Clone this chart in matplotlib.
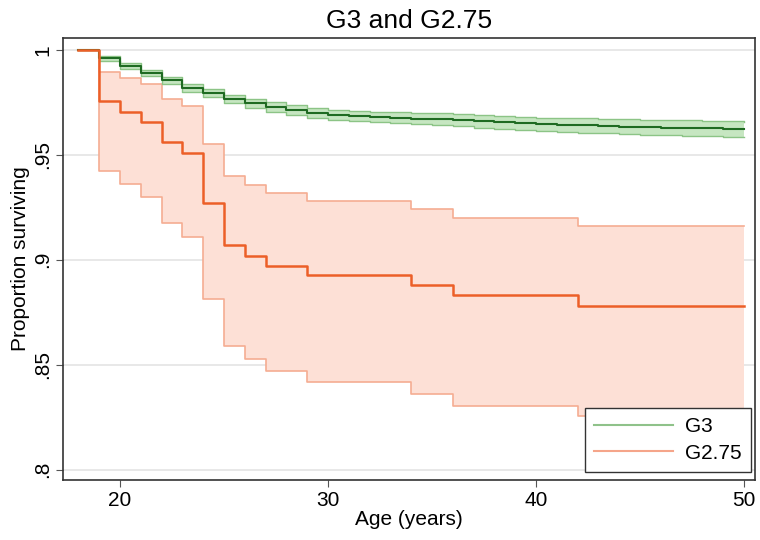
import matplotlib.pyplot as plt
from matplotlib.lines import Line2D

plt.rcParams['font.family'] = ['Liberation Sans', 'DejaVu Sans']

# G3 survival (step changes at each year of age)
g3_age = [18, 19, 20, 21, 22, 23, 24, 25, 26, 27, 28, 29, 30, 31, 32, 33, 34,
          35, 36, 37, 38, 39, 40, 41, 42, 43, 44, 45, 46, 47, 48, 49, 50]
g3_surv = [1.0, 0.996, 0.9925, 0.989, 0.9855, 0.982, 0.9795, 0.9765, 0.9745,
           0.9728, 0.9714, 0.9700, 0.969, 0.9685, 0.968, 0.9677, 0.9673, 0.967,
           0.9665, 0.966, 0.9655, 0.965, 0.9645, 0.9642, 0.964, 0.9637, 0.9634,
           0.9632, 0.963, 0.9628, 0.9626, 0.9624, 0.9622]
g3_lo = [1.0, 0.9948, 0.9911, 0.9875, 0.9838, 0.9802, 0.9776, 0.9745, 0.9724,
         0.9706, 0.9691, 0.9677, 0.9667, 0.9661, 0.9655, 0.9651, 0.9646, 0.9642,
         0.9636, 0.963, 0.9624, 0.9619, 0.9613, 0.9609, 0.9606, 0.9602, 0.9599,
         0.9596, 0.9594, 0.9591, 0.9589, 0.9587, 0.9585]
g3_hi = [1.0, 0.9972, 0.9939, 0.9905, 0.9872, 0.9838, 0.9814, 0.9785, 0.9766,
         0.975, 0.9737, 0.9723, 0.9713, 0.9709, 0.9705, 0.9703, 0.97, 0.9698,
         0.9694, 0.969, 0.9686, 0.9681, 0.9677, 0.9675, 0.9674, 0.9672, 0.9669,
         0.9668, 0.9666, 0.9665, 0.9663, 0.9661, 0.9659]

# G2.75 survival
g275_age = [18, 19, 20, 21, 22, 23, 24, 25, 26, 27, 29, 34, 36, 42, 50]
g275_surv = [1.0, 0.9757, 0.9706, 0.9659, 0.9563, 0.9508, 0.927, 0.907, 0.902,
             0.897, 0.8925, 0.8878, 0.883, 0.8778, 0.8778]
g275_lo = [1.0, 0.9424, 0.936, 0.930, 0.9175, 0.911, 0.8814, 0.8587, 0.8529,
           0.8471, 0.8417, 0.836, 0.8305, 0.8257, 0.8257]
g275_hi = [1.0, 0.9897, 0.9865, 0.9837, 0.9765, 0.9735, 0.955, 0.9397, 0.9354,
           0.9317, 0.9278, 0.9241, 0.92, 0.9159, 0.9159]

yticks = [0.8, 0.85, 0.9, 0.95, 1.0]
ytick_labels = ['.8', '.85', '.9', '.95', '1']
xticks = [20, 30, 40, 50]

fig = plt.figure(figsize=(7.6, 5.4), dpi=100)
# axes frame ~ x 63..755, y 38..480 px
ax = fig.add_axes([0.0829, 0.1111, 0.9105, 0.8185])

ax.set_axisbelow(True)
ax.grid(axis='y', color='#e4e4e4', linewidth=1.2)

# G2.75 band
ax.fill_between(g275_age, g275_lo, g275_hi, step='post', color='#fde0d6',
                linewidth=0, zorder=1)
ax.step(g275_age, g275_lo, where='post', color='#f5ad92', lw=1.2, zorder=2)
ax.step(g275_age, g275_hi, where='post', color='#f5ad92', lw=1.2, zorder=2)

# G3 band
ax.fill_between(g3_age, g3_lo, g3_hi, step='post', color='#c6e6c1',
                linewidth=0, zorder=3)
ax.step(g3_age, g3_lo, where='post', color='#8cc486', lw=1.0, zorder=3)
ax.step(g3_age, g3_hi, where='post', color='#8cc486', lw=1.0, zorder=3)
ax.step(g3_age, g3_surv, where='post', color='#1f6b22', lw=1.5, zorder=4)

ax.step(g275_age, g275_surv, where='post', color='#ec5f28', lw=1.8, zorder=5)

ax.set_xlim(17.26, 50.53)
ax.set_ylim(0.795, 1.0057)
ax.set_xticks(xticks)
ax.set_yticks(yticks)
ax.set_yticklabels(ytick_labels, rotation=90, va='center')
ax.tick_params(labelsize=15, color='#555555', length=5, pad=3)

for s in ax.spines.values():
    s.set_color('#333333')
    s.set_linewidth(1.2)

ax.set_title('G3 and G2.75', fontsize=19, pad=7)
ax.set_xlabel('Age (years)', fontsize=15, labelpad=0)
ax.set_ylabel('Proportion surviving', fontsize=15, labelpad=2)

handles = [Line2D([], [], color='#8fc28a', lw=1.5),
           Line2D([], [], color='#f5a58a', lw=1.5)]
leg = ax.legend(handles, ['G3', 'G2.75'], loc='lower right',
                bbox_to_anchor=(0.994, 0.018), fontsize=15,
                fancybox=False, framealpha=1, edgecolor='#333333',
                handlelength=3.8, handletextpad=0.55, borderaxespad=0,
                borderpad=0.45, labelspacing=0.35)
leg.get_frame().set_linewidth(1.0)
leg.set_zorder(10)

fig.savefig('out.png', dpi=100)
